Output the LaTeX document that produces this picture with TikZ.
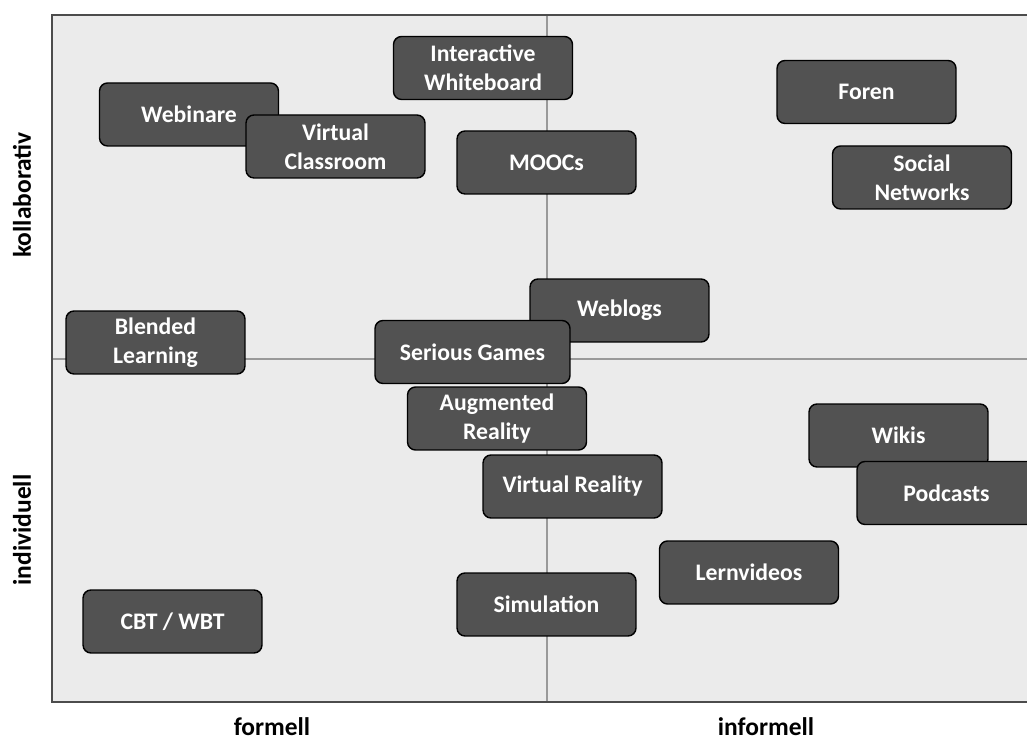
\documentclass[tikz,border=0pt]{standalone}
\usepackage{fontspec}
\setmainfont{Carlito}
\usepackage{tikz}
\colorlet{field}{black!8}
\colorlet{tool}{black!68}
\colorlet{axis}{black!40}
\colorlet{frame}{black!70}

\begin{document}
\begin{tikzpicture}[
  x=0.02cm,
  y=-0.02cm,
  every node/.style={
    font=\bfseries\fontsize{13.5}{16.5}\selectfont,
  },
  tool/.style={
    draw=black,
    line width=0.8pt,
    fill=tool,
    text=white,
    rounded corners=0.16cm,
    minimum width=3.58cm,
    minimum height=1.26cm,
    inner sep=0pt,
    align=center,
  },
  axis label/.style={
    text=black,
    inner sep=1pt,
    font=\bfseries\fontsize{14.5}{17}\selectfont,
  },
]
\useasboundingbox (0,0) rectangle (1027,742);
\fill[field] (52,15) rectangle (1040,702);
\draw[axis,line width=1.2pt] (547,15) -- (547,702);
\draw[axis,line width=1.2pt] (52,359) -- (1040,359);
\draw[frame,line width=1pt] (1040,15) -- (52,15) -- (52,702) -- (1040,702);
% collaborative, formal
\node[tool] (whiteboard) at (483,68) {Interactive\\Whiteboard};
\node[tool] (webinare) at (189,114.5) {Webinare};
\node[tool] (classroom) at (335.5,146.5) {Virtual\\Classroom};
\node[tool] (moocs) at (546.5,162.5) {MOOCs};
% collaborative, informal
\node[tool] (foren) at (866.5,92) {Foren};
\node[tool] (social) at (922,177.5) {Social\\Networks};
\node[tool] (weblogs) at (619.5,310.5) {Weblogs};
\node[tool] (blended) at (155.5,342.5) {Blended\\Learning};
\node[tool,minimum width=3.9cm] (games) at (472.5,352) {Serious Games};
% individual
\node[tool] (augmented) at (497,418.5) {Augmented\\Reality};
\node[tool] (wikis) at (898.5,435.5) {Wikis};
\node[tool] (virtual) at (572.5,486.5) {Virtual Reality};
\node[tool] (podcasts) at (946.5,493) {Podcasts};
\node[tool] (lernvideos) at (749,572.5) {Lernvideos};
\node[tool] (simulation) at (546.5,604.5) {Simulation};
\node[tool] (cbt) at (172.5,621.5) {CBT / WBT};
% axes
\node[axis label,rotate=90] (kollaborativ) at (22,195) {kollaborativ};
\node[axis label,rotate=90] (individuell) at (22,530) {individuell};
\node[axis label] (formell) at (272,727) {formell};
\node[axis label] (informell) at (766,727) {informell};
\end{tikzpicture}
\end{document}
